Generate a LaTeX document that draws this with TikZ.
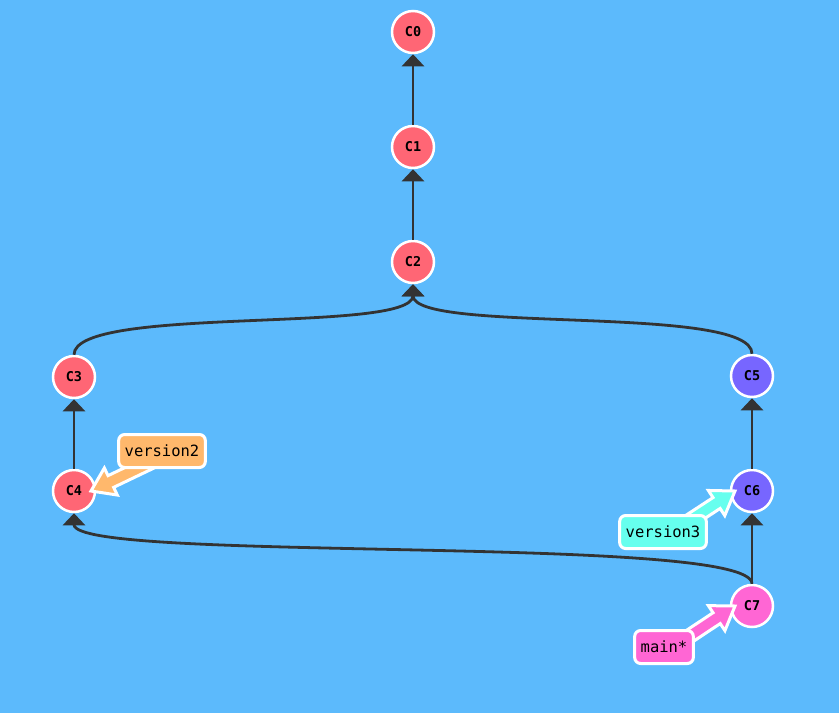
\documentclass[tikz,border=0pt]{standalone}
\usepackage{fontspec}
\setmonofont{DejaVu Sans Mono}
\usetikzlibrary{calc, arrows.meta}

\definecolor{bgblue}{HTML}{5CBAFC}
\definecolor{cred}{HTML}{FF6675}
\definecolor{cpurple}{HTML}{7766FF}
\definecolor{cpink}{HTML}{FF66D4}
\definecolor{corange}{HTML}{FFB86C}
\definecolor{ccyan}{HTML}{66FFEE}
\definecolor{edgegray}{HTML}{333333}

\pgfdeclarelayer{front}
\pgfsetlayers{main,front}

\tikzset{
  commit/.style={circle, draw=white, line width=2.5pt, minimum size=42pt, inner sep=0pt,
    font=\ttfamily\bfseries\fontsize{13.5}{15}\selectfont},
  parent/.style={draw=edgegray, line width=2.8pt, -{Triangle[width=22pt,length=12pt]}},
  tag/.style={draw=white, line width=3pt, rounded corners=6pt, inner xsep=6pt,
    minimum height=33pt, font=\ttfamily\fontsize{15.5}{18}\selectfont},
  tagarrow/.style={draw=white, line width=3pt, line join=miter}
}

% fat arrow from a tag (#1) to its commit (#2)
\newcommand{\tagpointer}[3]{%
  \coordinate (tip) at ($(#2)!17pt!(#2 -| #1)$);
  \coordinate (tail) at ([yshift=-6pt]#1.center);
  \coordinate (hb) at ($(tip)!22pt!(tail)$);
  \filldraw[tagarrow, fill=#3] ($(tail)!6.5pt!90:(tip)$) -- ($(hb)!6.5pt!90:(tip)$)
    -- ($(hb)!15pt!90:(tip)$) -- (tip) -- ($(hb)!15pt!-90:(tip)$)
    -- ($(hb)!6.5pt!-90:(tip)$) -- ($(tail)!6.5pt!-90:(tip)$) -- cycle;
}

\begin{document}
\begin{tikzpicture}[x=1pt, y=-1pt]
	\useasboundingbox (0,0) rectangle (839,713);
	\fill[bgblue] (0,0) rectangle (839,713);

	\node[commit, fill=cred] (C0) at (413,32) {C0};
	\node[commit, fill=cred] (C1) at (413,147) {C1};
	\node[commit, fill=cred] (C2) at (413,262) {C2};
	\node[commit, fill=cred] (C3) at (74,377) {C3};
	\node[commit, fill=cred] (C4) at (74,491) {C4};
	\node[commit, fill=cpurple] (C5) at (752,376) {C5};
	\node[commit, fill=cpurple] (C6) at (752,491) {C6};
	\node[commit, fill=cpink] (C7) at (752,606) {C7};

	\draw[parent] (C1.north) -- (C0.south);
	\draw[parent] (C2.north) -- (C1.south);
	\draw[parent] (C3.north) .. controls +(0,-50) and +(0,50) .. (C2.south);
	\draw[parent] (C5.north) .. controls +(0,-50) and +(0,50) .. (C2.south);
	\draw[parent] (C4.north) -- (C3.south);
	\draw[parent] (C6.north) -- (C5.south);
	\draw[parent] (C7.north) -- (C6.south);
	\draw[parent] (C7.north) .. controls +(0,-50) and +(0,50) .. (C4.south);

	% tags
	\begin{pgfonlayer}{front}
	\node[tag, fill=corange] (version2) at (162,451) {version2};
	\node[tag, fill=ccyan] (version3) at (663,532) {version3};
	\node[tag, fill=cpink] (main) at (664,647) {main*};
	\end{pgfonlayer}

	\tagpointer{version2}{C4}{corange}
	\tagpointer{version3}{C6}{ccyan}
	\tagpointer{main}{C7}{cpink}
\end{tikzpicture}
\end{document}
